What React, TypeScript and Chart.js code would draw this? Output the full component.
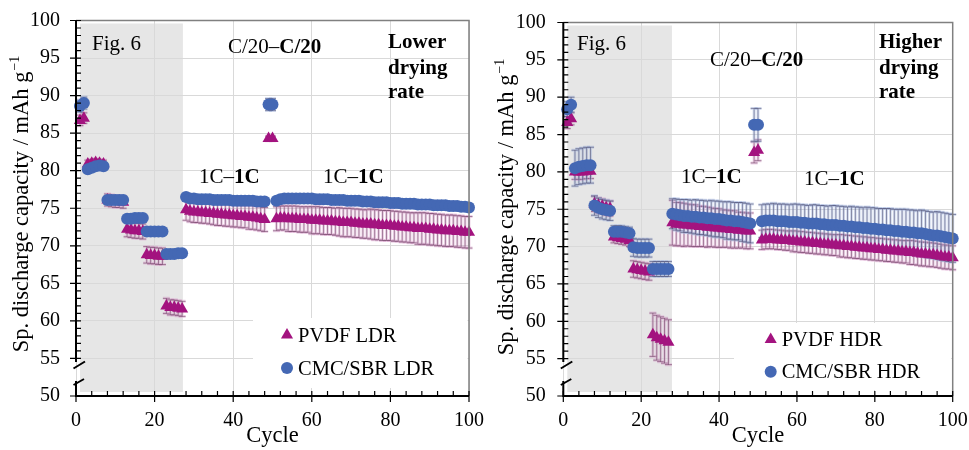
import React, { useEffect, useRef } from "react";
import { Chart, registerables } from "chart.js";
Chart.register(...registerables);

const FONT = "'Liberation Serif', 'Times New Roman', serif";
const BLUE = "#4468B4";
const MAG = "#A3137F";
const GRID = "#d9d9d9";
const H = 450;

const cycles = Array.from({ length: 100 }, (_, i) => i + 1);
const xTicks = [0, 20, 40, 60, 80, 100];
const yTicks = [50, 55, 60, 65, 70, 75, 80, 85, 90, 95, 100];

// ---- Lower drying rate (left panel) ----
const pvdfLDR = [
  86.7, 87.0, 80.9, 81.0, 81.1, 81.0, 80.9, 76.1, 76.0, 75.9,
  75.9, 75.8, 72.2, 72.1, 72.0, 72.0, 71.9, 68.8, 68.7, 68.7,
  68.6, 68.6, 62.0, 61.8, 61.8, 61.7, 61.6, 74.8, 74.6, 74.5,
  74.5, 74.4, 74.4, 74.3, 74.3, 74.2, 74.2, 74.1, 74.1, 74.0,
  74.0, 73.9, 73.9, 73.8, 73.8, 73.7, 73.6, 73.5, 84.3, 84.3,
  73.6, 73.7, 73.7, 73.6, 73.6, 73.6, 73.5, 73.5, 73.5, 73.4,
  73.4, 73.4, 73.3, 73.3, 73.3, 73.2, 73.2, 73.1, 73.1, 73.1,
  73.0, 73.0, 72.9, 72.9, 72.9, 72.8, 72.8, 72.7, 72.7, 72.7,
  72.6, 72.6, 72.5, 72.5, 72.4, 72.4, 72.3, 72.3, 72.3, 72.2,
  72.2, 72.1, 72.1, 72.0, 72.0, 72.0, 71.9, 71.9, 71.8, 71.8,
];
const pvdfLDRErr = [
  0.7, 0.7, 0.5, 0.5, 0.5, 0.5, 0.5, 0.8, 0.8, 0.8,
  0.8, 0.8, 1.0, 1.0, 1.0, 1.0, 1.0, 1.1, 1.1, 1.1,
  1.1, 1.1, 1.0, 1.0, 1.0, 1.0, 1.0, 1.4, 1.4, 1.4,
  1.4, 1.4, 1.4, 1.4, 1.5, 1.5, 1.5, 1.5, 1.5, 1.5,
  1.5, 1.5, 1.5, 1.6, 1.6, 1.6, 1.6, 1.6, 0.3, 0.3,
  1.6, 1.6, 1.6, 1.7, 1.7, 1.7, 1.7, 1.7, 1.7, 1.8,
  1.8, 1.8, 1.8, 1.8, 1.8, 1.8, 1.9, 1.9, 1.9, 1.9,
  1.9, 1.9, 1.9, 1.9, 2.0, 2.0, 2.0, 2.0, 2.0, 2.0,
  2.0, 2.0, 2.0, 2.0, 2.0, 2.0, 2.1, 2.1, 2.1, 2.1,
  2.1, 2.1, 2.1, 2.1, 2.1, 2.1, 2.1, 2.1, 2.1, 2.1,
];
const cmcLDR = [
  88.6, 89.0, 80.2, 80.4, 80.6, 80.7, 80.6, 76.1, 76.1, 76.1,
  76.1, 76.1, 73.6, 73.6, 73.7, 73.7, 73.7, 71.9, 71.9, 71.9,
  71.9, 71.9, 68.9, 68.9, 68.9, 69.0, 69.0, 76.5, 76.3, 76.3,
  76.2, 76.2, 76.2, 76.2, 76.1, 76.1, 76.1, 76.1, 76.1, 76.0,
  76.0, 76.0, 76.0, 76.0, 76.0, 75.9, 75.9, 75.9, 88.8, 88.8,
  76.0, 76.2, 76.3, 76.3, 76.3, 76.3, 76.3, 76.3, 76.3, 76.3,
  76.2, 76.2, 76.2, 76.2, 76.1, 76.1, 76.1, 76.1, 76.0, 76.0,
  76.0, 76.0, 75.9, 75.9, 75.9, 75.8, 75.8, 75.8, 75.8, 75.7,
  75.7, 75.7, 75.6, 75.6, 75.6, 75.6, 75.5, 75.5, 75.5, 75.5,
  75.4, 75.4, 75.4, 75.4, 75.3, 75.3, 75.3, 75.2, 75.2, 75.1,
];
const cmcLDRErr = [
  0.8, 0.8, 0.5, 0.5, 0.5, 0.5, 0.5, 0.5, 0.5, 0.5,
  0.5, 0.5, 0.4, 0.4, 0.4, 0.4, 0.4, 0.4, 0.4, 0.4,
  0.4, 0.4, 0.4, 0.4, 0.4, 0.4, 0.4, 0.4, 0.4, 0.4,
  0.4, 0.4, 0.4, 0.4, 0.4, 0.4, 0.4, 0.4, 0.4, 0.4,
  0.4, 0.4, 0.4, 0.4, 0.4, 0.4, 0.4, 0.4, 0.8, 0.8,
  0.4, 0.4, 0.4, 0.4, 0.4, 0.4, 0.4, 0.4, 0.4, 0.4,
  0.4, 0.4, 0.4, 0.4, 0.4, 0.4, 0.4, 0.4, 0.4, 0.4,
  0.5, 0.5, 0.5, 0.5, 0.5, 0.5, 0.5, 0.5, 0.5, 0.5,
  0.5, 0.5, 0.5, 0.5, 0.5, 0.5, 0.5, 0.5, 0.5, 0.5,
  0.5, 0.5, 0.5, 0.5, 0.5, 0.5, 0.5, 0.5, 0.5, 0.5,
];

// ---- Higher drying rate (right panel) ----
const pvdfHDR = [
  86.6, 87.1, 80.0, 80.0, 80.0, 80.1, 80.1, 75.7, 75.5, 75.4,
  75.2, 75.1, 71.3, 71.2, 71.1, 71.0, 70.8, 67.0, 66.9, 66.8,
  66.7, 66.6, 58.2, 57.8, 57.6, 57.4, 57.2, 73.2, 73.0, 73.0,
  72.9, 72.9, 72.8, 72.8, 72.7, 72.7, 72.6, 72.6, 72.5, 72.5,
  72.4, 72.4, 72.3, 72.3, 72.2, 72.2, 72.1, 72.1, 82.6, 82.9,
  70.9, 71.0, 71.0, 71.0, 70.9, 70.9, 70.8, 70.8, 70.7, 70.7,
  70.6, 70.6, 70.5, 70.5, 70.4, 70.4, 70.3, 70.3, 70.2, 70.2,
  70.1, 70.1, 70.0, 70.0, 69.9, 69.9, 69.8, 69.8, 69.7, 69.7,
  69.6, 69.6, 69.5, 69.5, 69.4, 69.4, 69.3, 69.3, 69.2, 69.2,
  69.1, 69.0, 69.0, 68.9, 68.9, 68.8, 68.7, 68.6, 68.6, 68.5,
];
const pvdfHDRErr = [
  0.8, 0.8, 1.0, 1.0, 1.0, 1.0, 1.0, 1.0, 1.0, 1.0,
  1.0, 1.0, 0.8, 0.8, 0.8, 0.8, 0.8, 1.1, 1.1, 1.1,
  1.1, 1.1, 2.9, 3.0, 3.0, 3.0, 3.0, 3.0, 2.9, 2.9,
  2.9, 2.8, 2.8, 2.8, 2.7, 2.7, 2.7, 2.6, 2.6, 2.6,
  2.5, 2.5, 2.5, 2.5, 2.4, 2.4, 2.4, 2.4, 1.4, 1.4,
  1.3, 1.3, 1.3, 1.3, 1.3, 1.3, 1.3, 1.3, 1.4, 1.4,
  1.4, 1.4, 1.4, 1.4, 1.4, 1.4, 1.4, 1.4, 1.4, 1.4,
  1.5, 1.5, 1.5, 1.5, 1.5, 1.5, 1.5, 1.5, 1.5, 1.5,
  1.5, 1.5, 1.5, 1.5, 1.5, 1.5, 1.5, 1.5, 1.6, 1.6,
  1.6, 1.6, 1.6, 1.6, 1.6, 1.6, 1.6, 1.6, 1.6, 1.6,
];
const cmcHDR = [
  88.4, 89.0, 80.5, 80.7, 80.8, 80.9, 80.9, 75.5, 75.2, 75.0,
  74.9, 74.8, 72.0, 72.0, 72.0, 71.9, 71.8, 69.9, 69.8, 69.8,
  69.8, 69.8, 67.0, 67.0, 67.0, 67.0, 67.0, 74.4, 74.3, 74.2,
  74.1, 74.1, 74.0, 74.0, 73.9, 73.9, 73.8, 73.8, 73.7, 73.7,
  73.6, 73.5, 73.5, 73.4, 73.4, 73.3, 73.2, 73.1, 86.3, 86.3,
  73.4, 73.5, 73.5, 73.5, 73.4, 73.4, 73.4, 73.3, 73.3, 73.3,
  73.2, 73.2, 73.1, 73.1, 73.1, 73.0, 73.0, 72.9, 72.9, 72.9,
  72.8, 72.8, 72.7, 72.7, 72.6, 72.6, 72.5, 72.5, 72.4, 72.4,
  72.3, 72.3, 72.2, 72.2, 72.1, 72.1, 72.0, 72.0, 71.9, 71.9,
  71.8, 71.8, 71.7, 71.6, 71.5, 71.5, 71.4, 71.3, 71.2, 71.1,
];
const cmcHDRErr = [
  1.0, 1.0, 2.4, 2.4, 2.4, 2.4, 2.4, 1.3, 1.3, 1.3,
  1.3, 1.3, 0.8, 0.8, 0.8, 0.8, 0.8, 1.2, 1.2, 1.2,
  1.2, 1.2, 1.0, 1.0, 1.0, 1.0, 1.0, 2.0, 2.1, 2.1,
  2.2, 2.2, 2.2, 2.3, 2.3, 2.3, 2.3, 2.4, 2.4, 2.4,
  2.4, 2.5, 2.5, 2.5, 2.5, 2.6, 2.6, 2.6, 2.2, 2.2,
  2.2, 2.2, 2.2, 2.3, 2.3, 2.3, 2.3, 2.3, 2.4, 2.4,
  2.4, 2.4, 2.4, 2.5, 2.5, 2.5, 2.5, 2.5, 2.6, 2.6,
  2.6, 2.6, 2.6, 2.7, 2.7, 2.7, 2.7, 2.8, 2.8, 2.8,
  2.8, 2.8, 2.9, 2.9, 2.9, 2.9, 3.0, 3.0, 3.0, 3.0,
  3.0, 3.1, 3.1, 3.1, 3.1, 3.2, 3.2, 3.2, 3.2, 3.2,
];

const shadeEndLDR = 27.2;
const shadeEndHDR = 27.9;

type Cfg = {
  left: number; width: number;
  plotLeft: number; plotTop: number; plotRight: number; plotBottom: number;
  yTickPad: number; xTickPad: number;
  shadeEnd: number;
  pvdf: number[]; pvdfErr: number[]; cmc: number[]; cmcErr: number[];
  pvdfLabel: string; cmcLabel: string;
  tag: string[]; tagX: number;
  figX: number; figY: number;
  c20X: number; c20Y: number;
  oneC: number[][];
  box: number[]; // l,t,r,b
  mkX: number; mkY: number[]; txX: number; txY: number[];
  yTitleX: number; yTitleCY: number;
};

function drawRich(ctx: CanvasRenderingContext2D, parts: [string, boolean][], x: number, y: number, size: number) {
  let cx = x;
  for (const [t, b] of parts) {
    ctx.font = `${b ? "bold " : ""}${size}px ${FONT}`;
    ctx.fillText(t, cx, y);
    cx += ctx.measureText(t).width;
  }
}

function tri(ctx: CanvasRenderingContext2D, x: number, y: number, r: number) {
  ctx.beginPath();
  ctx.moveTo(x, y - r);
  ctx.lineTo(x + r * 0.866, y + r * 0.5);
  ctx.lineTo(x - r * 0.866, y + r * 0.5);
  ctx.closePath();
  ctx.fill();
}

function Panel({ cfg }: { cfg: Cfg }) {
  const ref = useRef<HTMLCanvasElement>(null);
  useEffect(() => {
    const canvas = ref.current!;
    const p = cfg;
    const deco = {
      id: "deco",
      beforeDraw(chart: any) {
        const ctx = chart.ctx as CanvasRenderingContext2D;
        const a = chart.chartArea;
        const xs = chart.scales.x;
        ctx.save();
        ctx.fillStyle = "#ffffff";
        ctx.fillRect(0, 0, chart.width, chart.height);
        ctx.fillStyle = "#e6e6e6";
        const l = a.left + 4;
        const r = xs.getPixelForValue(p.shadeEnd);
        ctx.fillRect(l, a.top + 3, r - l, a.bottom - 4 - (a.top + 3));
        ctx.restore();
      },
      beforeDatasetsDraw(chart: any) {
        const ctx = chart.ctx as CanvasRenderingContext2D;
        const ys = chart.scales.y;
        ctx.save();
        // legend box
        ctx.fillStyle = "#ffffff";
        ctx.fillRect(p.box[0], p.box[1], p.box[2] - p.box[0], p.box[3] - p.box[1]);
        const sets = [
          { idx: 1, vals: p.pvdf, err: p.pvdfErr, glow: "rgba(218,160,205,0.45)", line: "rgba(90,40,80,0.65)" },
          { idx: 0, vals: p.cmc, err: p.cmcErr, glow: "rgba(165,182,222,0.45)", line: "rgba(55,55,95,0.65)" },
        ];
        for (const s of sets) {
          const meta = chart.getDatasetMeta(s.idx);
          meta.data.forEach((el: any, j: number) => {
            const x = el.x;
            const yT = ys.getPixelForValue(s.vals[j] + s.err[j]);
            const yB = ys.getPixelForValue(s.vals[j] - s.err[j]);
            const pass = (w: number, c: string) => {
              ctx.strokeStyle = c;
              ctx.lineWidth = w;
              ctx.beginPath();
              ctx.moveTo(x, yT); ctx.lineTo(x, yB);
              ctx.moveTo(x - 3.5, yT); ctx.lineTo(x + 3.5, yT);
              ctx.moveTo(x - 3.5, yB); ctx.lineTo(x + 3.5, yB);
              ctx.stroke();
            };
            pass(3, s.glow);
            pass(0.8, s.line);
          });
        }
        ctx.restore();
      },
      afterDraw(chart: any) {
        const ctx = chart.ctx as CanvasRenderingContext2D;
        const a = chart.chartArea;
        const xs = chart.scales.x;
        const ys = chart.scales.y;
        ctx.save();
        // frame top/right
        ctx.strokeStyle = "#808080";
        ctx.lineWidth = 1.5;
        ctx.beginPath();
        ctx.moveTo(a.left, a.top); ctx.lineTo(a.right, a.top); ctx.lineTo(a.right, a.bottom);
        ctx.stroke();
        // axes
        ctx.strokeStyle = "#000";
        ctx.lineWidth = 2;
        ctx.beginPath();
        ctx.moveTo(a.left, a.top); ctx.lineTo(a.left, a.bottom - 34);
        ctx.moveTo(a.left, a.bottom - 15); ctx.lineTo(a.left, a.bottom);
        ctx.moveTo(a.left - 1, a.bottom); ctx.lineTo(a.right, a.bottom);
        ctx.stroke();
        // break marks
        ctx.lineWidth = 2;
        ctx.beginPath();
        ctx.moveTo(a.left - 2.5, a.bottom - 27.5); ctx.lineTo(a.left + 9, a.bottom - 34.5);
        ctx.moveTo(a.left - 2.5, a.bottom - 11); ctx.lineTo(a.left + 8, a.bottom - 17);
        ctx.stroke();
        // ticks
        ctx.lineWidth = 1.2;
        ctx.beginPath();
        for (let v = 55; v <= 100; v += 1) {
          const y = ys.getPixelForValue(v);
          if (v % 5 === 0) { ctx.moveTo(a.left - 6, y); ctx.lineTo(a.left + 5, y); }
          else { ctx.moveTo(a.left, y); ctx.lineTo(a.left + 5, y); }
        }
        ctx.moveTo(a.left - 6, a.bottom); ctx.lineTo(a.left, a.bottom);
        for (let v = 0; v <= 100; v += 4) {
          const x = xs.getPixelForValue(v);
          ctx.moveTo(x, a.bottom - 5); ctx.lineTo(x, a.bottom);
        }
        for (const v of xTicks) {
          const x = xs.getPixelForValue(v);
          ctx.moveTo(x, a.bottom - 5); ctx.lineTo(x, a.bottom + 6);
        }
        ctx.stroke();
        // texts
        ctx.fillStyle = "#000";
        ctx.textAlign = "left";
        ctx.textBaseline = "alphabetic";
        drawRich(ctx, [["Fig. 6", false]], p.figX, p.figY, 21);
        drawRich(ctx, [["C/20\u2013", false], ["C/20", true]], p.c20X, p.c20Y, 21);
        for (const [x, y] of p.oneC) drawRich(ctx, [["1C\u2013", false], ["1C", true]], x, y, 21);
        p.tag.forEach((t, i) => drawRich(ctx, [[t, true]], p.tagX, [48, 73.5, 98][i], 21));
        // legend
        ctx.fillStyle = MAG;
        tri(ctx, p.mkX, p.mkY[0], 7);
        ctx.fillStyle = BLUE;
        ctx.beginPath(); ctx.arc(p.mkX, p.mkY[1], 6, 0, Math.PI * 2); ctx.fill();
        ctx.fillStyle = "#000";
        drawRich(ctx, [[p.pvdfLabel, false]], p.txX, p.txY[0], 20.5);
        drawRich(ctx, [[p.cmcLabel, false]], p.txX, p.txY[1], 20.5);
        // x title
        ctx.font = `22.5px ${FONT}`;
        ctx.textAlign = "center";
        ctx.fillText("Cycle", (a.left + a.right) / 2, 442);
        // y title
        ctx.translate(p.yTitleX, p.yTitleCY);
        ctx.rotate(-Math.PI / 2);
        ctx.textAlign = "left";
        const main = "Sp. discharge capacity / mAh g";
        ctx.font = `22.5px ${FONT}`;
        const wMain = ctx.measureText(main).width;
        ctx.font = `14px ${FONT}`;
        const sup = "\u22121";
        const wSup = ctx.measureText(sup).width;
        const total = wMain + wSup + 1;
        ctx.font = `22.5px ${FONT}`;
        ctx.fillText(main, -total / 2, 0);
        ctx.font = `14px ${FONT}`;
        ctx.fillText(sup, -total / 2 + wMain + 1, -9);
        ctx.restore();
      },
    };
    const zeroPad = (s: any) => {
      s.paddingTop = 0; s.paddingBottom = 0; s.paddingLeft = 0; s.paddingRight = 0;
    };
    const chart = new Chart(canvas, {
      type: "scatter",
      data: {
        datasets: [
          {
            label: p.cmcLabel,
            data: p.cmc.map((y, i) => ({ x: cycles[i], y })),
            pointStyle: "circle",
            pointRadius: 6,
            pointHoverRadius: 6,
            backgroundColor: BLUE,
            borderWidth: 0,
            clip: false,
          } as any,
          {
            label: p.pvdfLabel,
            data: p.pvdf.map((y, i) => ({ x: cycles[i], y })),
            pointStyle: "triangle",
            pointRadius: 7,
            pointHoverRadius: 7,
            backgroundColor: MAG,
            borderWidth: 0,
            clip: false,
          } as any,
        ],
      },
      options: {
        animation: false,
        responsive: false,
        events: [],
        layout: { padding: { top: p.plotTop, right: p.width - p.plotRight, left: 0, bottom: 0 } },
        plugins: { legend: { display: false }, tooltip: { enabled: false } },
        scales: {
          x: {
            type: "linear",
            min: 0,
            max: 100,
            afterBuildTicks: (s: any) => { s.ticks = xTicks.map((v) => ({ value: v })); },
            ticks: { font: { family: FONT, size: 20 }, color: "#000", padding: p.xTickPad, maxRotation: 0, autoSkip: false },
            grid: { color: GRID, drawTicks: false, lineWidth: 1 },
            border: { display: false },
            afterFit: (s: any) => { s.height = H - p.plotBottom; zeroPad(s); },
          },
          y: {
            type: "linear",
            min: 50,
            max: 100,
            afterBuildTicks: (s: any) => { s.ticks = yTicks.map((v) => ({ value: v })); },
            ticks: { font: { family: FONT, size: 20 }, color: "#000", padding: p.yTickPad, autoSkip: false },
            grid: { color: GRID, drawTicks: false, lineWidth: 1 },
            border: { display: false },
            afterFit: (s: any) => { s.width = p.plotLeft; zeroPad(s); },
          },
        },
      } as any,
      plugins: [deco],
    });
    return () => chart.destroy();
  }, [cfg]);
  return (
    <canvas
      ref={ref}
      width={cfg.width}
      height={H}
      style={{ position: "absolute", left: cfg.left, top: 0, width: cfg.width, height: H }}
    />
  );
}

const leftCfg: Cfg = {
  left: 0, width: 484,
  plotLeft: 76, plotTop: 20.5, plotRight: 469, plotBottom: 396,
  yTickPad: 16, xTickPad: 13,
  shadeEnd: shadeEndLDR,
  pvdf: pvdfLDR, pvdfErr: pvdfLDRErr, cmc: cmcLDR, cmcErr: cmcLDRErr,
  pvdfLabel: "PVDF LDR", cmcLabel: "CMC/SBR LDR",
  tag: ["Lower", "drying", "rate"], tagX: 388,
  figX: 92, figY: 50,
  c20X: 228, c20Y: 53,
  oneC: [[199, 183], [323, 183]],
  box: [253, 318, 467.5, 388],
  mkX: 287, mkY: [335, 368], txX: 298, txY: [341.5, 374.5],
  yTitleX: 27.5, yTitleCY: 204,
};

const rightCfg: Cfg = {
  left: 484, width: 485,
  plotLeft: 79.3, plotTop: 22.5, plotRight: 468.7, plotBottom: 396,
  yTickPad: 17.5, xTickPad: 13,
  shadeEnd: shadeEndHDR,
  pvdf: pvdfHDR, pvdfErr: pvdfHDRErr, cmc: cmcHDR, cmcErr: cmcHDRErr,
  pvdfLabel: "PVDF HDR", cmcLabel: "CMC/SBR HDR",
  tag: ["Higher", "drying", "rate"], tagX: 395,
  figX: 93, figY: 50,
  c20X: 226, c20Y: 65.5,
  oneC: [[197, 183], [320, 184.5]],
  box: [250, 323, 467, 390],
  mkX: 286.7, mkY: [339.5, 371.7], txX: 297.7, txY: [345.5, 378],
  yTitleX: 29, yTitleCY: 207,
};

export default function App() {
  return (
    <div style={{ position: "fixed", left: 0, top: 0, width: 969, height: H, background: "#fff" }}>
      <Panel cfg={leftCfg} />
      <Panel cfg={rightCfg} />
    </div>
  );
}
